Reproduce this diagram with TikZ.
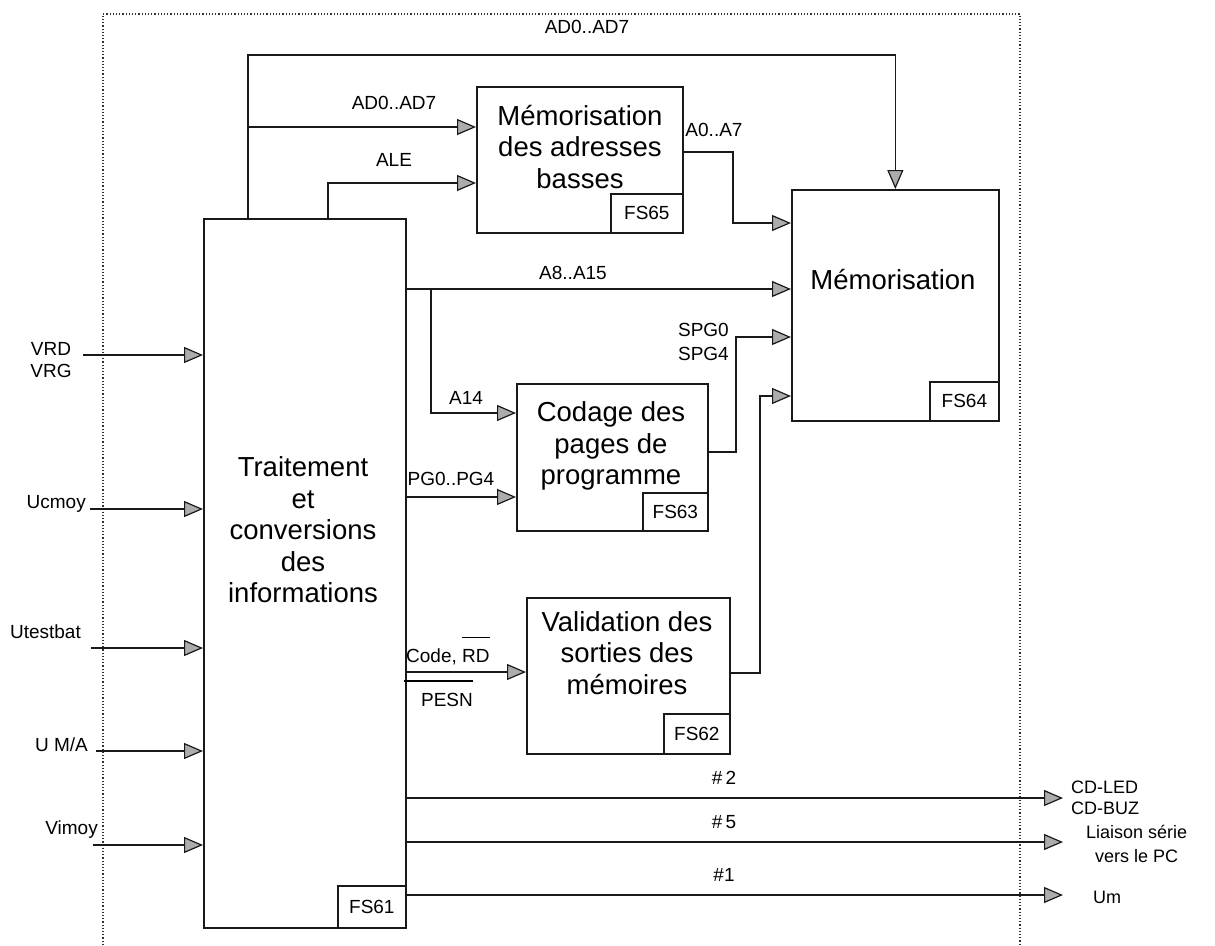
\documentclass[tikz,border=0pt]{standalone}
\usepackage{fontspec}
\setmainfont{Liberation Sans}
\usetikzlibrary{arrows.meta}
\newcommand\ovlbar[1]{\vbox{\hrule height 1.3pt\kern 11pt\hbox{#1}}}
\begin{document}
\begin{tikzpicture}[x=1pt,y=-1pt,
  line/.style={line width=1.7pt, draw=black!90},
  arr/.style={line, -{Triangle[length=19pt,width=16pt,fill=gray!65,line width=1.2pt]}},
  box/.style={line, rectangle, inner sep=0pt, anchor=north west},
  tag/.style={line, rectangle, inner sep=0pt, anchor=south east, font=\fontsize{19}{22}\selectfont},
  big/.style={align=center, font=\fontsize{27.5}{31.5}\selectfont, inner sep=0pt},
  lbl/.style={font=\fontsize{19}{22}\selectfont, inner sep=0pt},
  frame/.style={dotted, line width=1.2pt, draw=black!80}]
\useasboundingbox (0,0) rectangle (1215,945);
% frame
\draw[frame] (103,945) -- (103,14) -- (1020,14) -- (1020,945);
% boxes
\node[box, minimum width=202pt, minimum height=709pt] (fs61) at (203,218) {};
\node[tag, minimum width=68pt, minimum height=42pt] (t61) at (fs61.south east) {FS61};
\node[box, minimum width=206pt, minimum height=146pt] (fs65) at (476,86) {};
\node[tag, minimum width=72pt, minimum height=39pt] (t65) at (fs65.south east) {FS65};
\node[box, minimum width=207pt, minimum height=231pt] (fs64) at (791,189) {};
\node[tag, minimum width=69pt, minimum height=39pt] (t64) at (fs64.south east) {FS64};
\node[box, minimum width=191pt, minimum height=147pt] (fs63) at (516,383) {};
\node[tag, minimum width=65pt, minimum height=38pt] (t63) at (fs63.south east) {FS63};
\node[box, minimum width=203pt, minimum height=156pt] (fs62) at (526,597) {};
\node[tag, minimum width=66pt, minimum height=40pt] (t62) at (fs62.south east) {FS62};
% box texts
\node[big] (x61) at (303,530) {Traitement\\et\\conversions\\des\\informations};
\node[big] (x65) at (580,147) {Mémorisation\\des adresses\\basses};
\node[big] (x64) at (893,280) {Mémorisation};
\node[big] (x63) at (611,446) {Codage des\\pages de\\programme};
\node[big] (x62) at (627,653) {Validation des\\sorties des\\mémoires};
% top connections
\coordinate (j1) at (248,127);
\draw[arr] (248,0 |- fs61.north) |- (fs64.north |- 0,55) -- (fs64.north);
\draw[arr] (j1) -- (fs65.west |- j1);
\draw[arr] (328,0 |- fs61.north) |- (fs65.west |- 0,183);
\node[lbl] (l1) at (587,27) {AD0..AD7};
\node[lbl] (l2) at (394,103) {AD0..AD7};
\node[lbl] (l3) at (394,160) {ALE};
% to FS64
\draw[arr] (fs65.east |- 0,152) -| (733,223) -- (fs64.west |- 0,223);
\node[lbl] (l4) at (714,130) {A0..A7};
\coordinate (j2) at (431,289);
\draw[arr] (fs61.east |- j2) -- (fs64.west |- j2);
\node[lbl] (l5) at (573,273) {A8..A15};
\draw[arr] (j2) |- (fs63.west |- 0,413);
\node[lbl] (l6) at (466,398) {A14};
\draw[arr] (fs63.east |- 0,452) -| (736,337) -- (fs64.west |- 0,337);
\node[lbl, anchor=east] (l7) at (729,330) {SPG0};
\node[lbl, anchor=east] (l8) at (729,354) {SPG4};
\draw[arr] (fs62.east |- 0,673) -| (760,396) -- (fs64.west |- 0,396);
\draw[arr] (fs61.east |- 0,497) -- (fs63.west |- 0,497);
\node[lbl] (l9) at (451,479) {PG0..PG4};
\draw[arr] (fs61.east |- 0,672) -- (fs62.west |- 0,672);
\node[lbl, anchor=base west] (l10) at (406,662) {Code, \ovlbar{RD}};
\node[lbl] (l11) at (447,700) {PESN};
\draw[line width=1.3pt] ([xshift=-17pt,yshift=12pt]l11.north west) -- ([yshift=12pt]l11.north east);
% inputs
\coordinate (i1) at (83,355);
\coordinate (i2) at (90,509);
\coordinate (i3) at (91,648);
\coordinate (i4) at (96,751);
\coordinate (i5) at (93,845);
\draw[arr] (i1) -- (fs61.west |- i1);
\draw[arr] (i2) -- (fs61.west |- i2);
\draw[arr] (i3) -- (fs61.west |- i3);
\draw[arr] (i4) -- (fs61.west |- i4);
\draw[arr] (i5) -- (fs61.west |- i5);
\node[lbl, align=center] (n1) at (51,360) {VRD\\VRG};
\node[lbl, anchor=east] (n2) at (86,504) {Ucmoy};
\node[lbl, anchor=east] (n3) at (81,632) {Utestbat};
\node[lbl, anchor=east] (n4) at (88,745) {U M/A};
\node[lbl, anchor=east] (n5) at (98,830) {Vimoy};
% outputs
\coordinate (o1) at (1063,798);
\coordinate (o2) at (1063,842);
\coordinate (o3) at (1063,895);
\draw[arr] (fs61.east |- o1) -- (o1);
\draw[arr] (fs61.east |- o2) -- (o2);
\draw[arr] (fs61.east |- o3) -- (o3);
\node[lbl] (h1) at (724,778) {\#\,2};
\node[lbl] (h2) at (724,822) {\#\,5};
\node[lbl] (h3) at (724,875) {\#1};
\node[lbl, align=left, anchor=west, font=\fontsize{18}{21}\selectfont] (r1) at (1071,798) {CD-LED\\CD-BUZ};
\node[lbl, align=center, anchor=west, font=\fontsize{18}{24}\selectfont] (r2) at (1086,844) {Liaison série\\vers le PC};
\node[lbl, anchor=west, font=\fontsize{18}{21}\selectfont] (r3) at (1093,897) {Um};
\end{tikzpicture}
\end{document}
